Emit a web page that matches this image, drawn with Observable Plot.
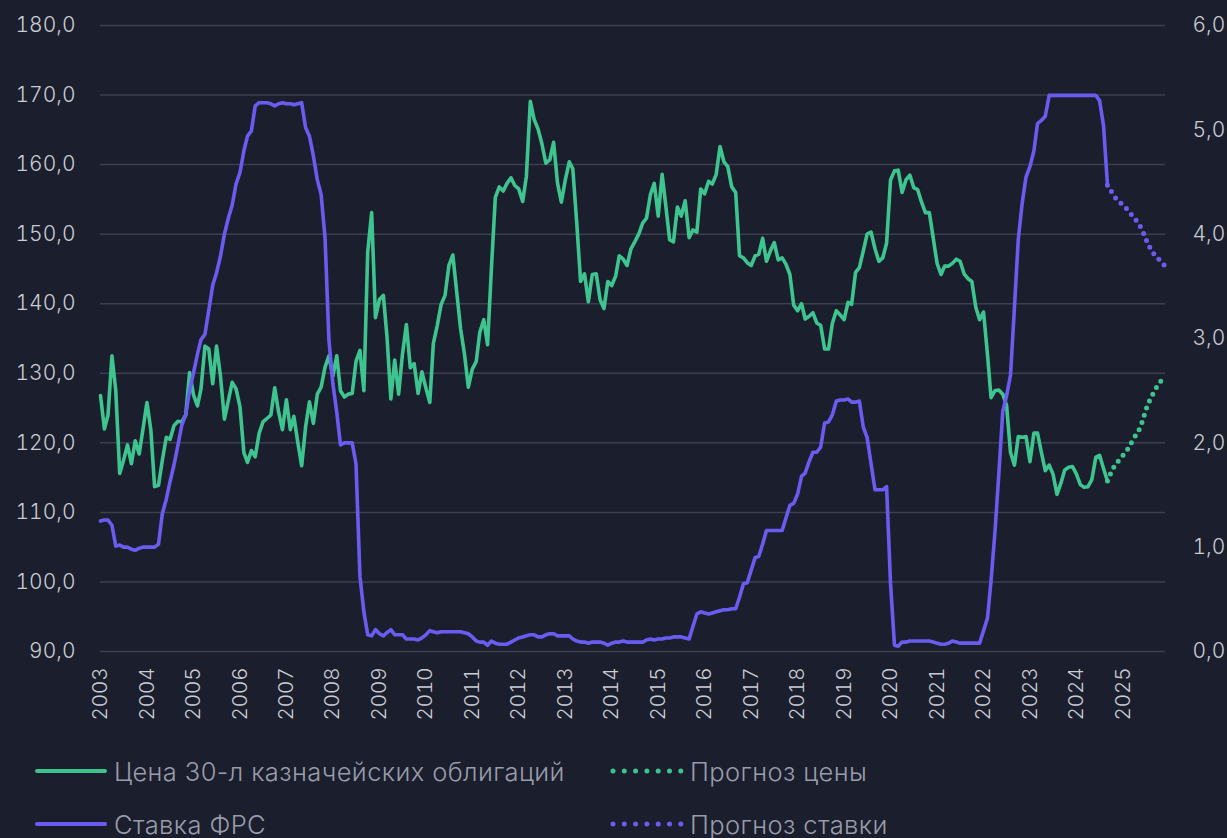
<!DOCTYPE html>
<html><head><meta charset="utf-8">
<script src="https://cdn.jsdelivr.net/npm/d3@7"></script>
<script src="https://cdn.jsdelivr.net/npm/@observablehq/plot@0.6"></script>
<style>
html,body{margin:0;padding:0;background:#1b1e2c;}
#wrap{position:relative;width:1227px;height:838px;overflow:hidden;background:#1b1e2c;}
#chart{position:absolute;left:0;top:0;}
.lg{position:absolute;display:flex;align-items:center;height:34px;font-family:Inter,"Noto Sans",sans-serif;font-weight:300;font-size:25.5px;letter-spacing:0.4px;color:#989cab;white-space:nowrap;}
.lg svg{margin-right:6px;}
</style></head><body><div id="wrap"><div id="chart"></div></div>
<script>
// ---- data (monthly, starting at the "2003" tick) ----
const startYear = 2003;
const priceLabel = "Цена 30-л казначейских облигаций";
const priceForecastLabel = "Прогноз цены";
const rateLabel = "Ставка ФРС";
const rateForecastLabel = "Прогноз ставки";

const price = [
126.8,122,124,132.5,127.5,115.6,117.5,119.7,117,120.3,118.4,122,
125.8,121.8,113.7,113.9,117.5,120.8,120.5,122.5,123.1,123,124,130.1,
126.9,125.3,127.8,133.9,133.5,128.5,133.9,129.6,123.4,126,128.7,127.8,
125.2,118.6,117.2,118.9,118,121.4,123,123.5,124,127.9,124.4,121.9,
126.2,121.9,123.8,120,116.7,122.3,125.9,122.8,127,128,130.9,132.5,
129.6,132.5,127.5,126.6,127,127.1,131.7,133.3,127.5,147.4,153.1,138,
140.6,141.2,135.4,126.3,131.9,127,132.7,137,130.8,131.4,127.1,130.2,
127.9,125.8,134.3,136.9,139.9,141.2,145.5,147,141.6,136.4,132.7,128,
130.6,131.7,135.9,137.7,134.1,145.3,155.3,156.8,156.2,157.3,158.1,157,
156.5,154.7,158.3,169.1,166.5,165.1,163,160.2,160.7,163.2,157.3,154.6,
157.8,160.4,159.4,151.6,143.2,144.3,140.3,144.2,144.3,140.6,139.3,143.2,
142.6,144,146.9,146.4,145.5,147.9,148.9,150,151.6,152.3,155.7,157.3,
152.6,158.6,154.2,149.2,148.9,153.9,152.6,154.8,149.5,150.6,150.3,156.5,
155.8,157.6,157.2,158.6,162.6,160.4,159.7,156.8,156,146.9,146.6,145.9,
145.5,146.9,147.1,149.4,146.1,147.6,148.8,146.3,146.6,145.7,144.2,139.8,
139,140,137.8,138.2,138.7,137.2,136.9,133.5,133.5,137.2,139,138.4,
137.7,140.2,139.9,144.5,145.2,147.6,150,150.3,147.9,146.1,146.6,148.7,
157.8,159.1,159.2,156,157.8,158.5,156.7,156.4,154.6,153.1,153.1,149.5,
145.8,144.2,145.4,145.4,145.8,146.4,146.1,144.3,143.6,143.2,139.5,137.7,
138.8,132.7,126.5,127.5,127.6,127,125.4,118.6,116.8,120.9,120.8,120.9,
117.3,121.4,121.4,118.6,116,116.8,115.5,112.6,114.2,116.1,116.5,116.6,
115.5,114,113.6,113.7,114.7,117.9,118.2,116.3,114.5
];
const rate = [
1.25,1.26,1.26,1.21,1.01,1.02,1.0,1.0,0.98,0.97,0.99,1.0,
1.0,1.0,1.0,1.03,1.32,1.46,1.63,1.79,1.98,2.17,2.27,2.5,
2.67,2.85,2.99,3.04,3.27,3.51,3.63,3.79,4.0,4.15,4.28,4.48,
4.59,4.8,4.94,4.99,5.23,5.26,5.26,5.26,5.25,5.23,5.25,5.26,
5.25,5.25,5.24,5.25,5.26,5.02,4.94,4.75,4.52,4.38,3.96,2.99,
2.57,2.29,1.98,2.0,2.0,2.0,1.8,0.72,0.38,0.16,0.15,0.21,
0.17,0.15,0.18,0.21,0.16,0.16,0.16,0.12,0.12,0.12,0.11,0.13,
0.16,0.2,0.19,0.18,0.19,0.19,0.19,0.19,0.19,0.19,0.18,0.17,
0.14,0.1,0.09,0.09,0.06,0.1,0.08,0.07,0.07,0.07,0.09,0.11,
0.13,0.14,0.15,0.16,0.16,0.14,0.14,0.16,0.17,0.17,0.15,0.15,
0.15,0.15,0.12,0.1,0.09,0.09,0.08,0.09,0.09,0.09,0.08,0.06,
0.08,0.09,0.09,0.1,0.09,0.09,0.09,0.09,0.09,0.11,0.12,0.11,
0.12,0.12,0.13,0.13,0.14,0.14,0.14,0.13,0.12,0.24,0.36,0.38,
0.37,0.36,0.37,0.38,0.39,0.4,0.4,0.41,0.41,0.52,0.65,0.66,
0.78,0.9,0.91,1.03,1.16,1.16,1.16,1.16,1.16,1.28,1.4,1.42,
1.51,1.68,1.71,1.82,1.91,1.91,1.96,2.19,2.2,2.27,2.4,2.41,
2.41,2.42,2.39,2.39,2.4,2.15,2.05,1.8,1.55,1.55,1.55,1.58,
0.65,0.06,0.05,0.09,0.09,0.1,0.1,0.1,0.1,0.1,0.1,0.09,
0.08,0.07,0.07,0.08,0.1,0.09,0.08,0.08,0.08,0.08,0.08,0.08,
0.2,0.32,0.68,1.15,1.7,2.3,2.45,2.65,3.3,3.95,4.3,4.55,
4.65,4.8,5.06,5.09,5.13,5.33,5.33,5.33,5.33,5.33,5.33,5.33,
5.33,5.33,5.33,5.33,5.33,5.33,5.28,5.04,4.47
];
// forecasts start at the last actual month
const priceForecast = [114.5,115.8,116.9,117.5,118.2,118.9,119.8,120.8,121.6,123,124.8,126.2,127.3,128.3,129.0];
const rateForecast = [4.47,4.41,4.35,4.31,4.28,4.24,4.2,4.15,4.11,4.04,3.95,3.87,3.81,3.77,3.73,3.69];

const priceTicks = [90,100,110,120,130,140,150,160,170,180];
const rateTicks = [0,1,2,3,4,5,6];
const yearTicks = d3.range(2003, 2026);

// ---- build ----
const GREEN = "#3ec58f", PURPLE = "#6b5cf1";
const t0 = new Date(Date.UTC(startYear, 0, 1));
const dateOf = i => d3.utcMonth.offset(t0, i);
const fcStart = price.length - 1;
const fmt = v => v.toFixed(1).replace(".", ",");
const pMin = priceTicks[0], pMax = priceTicks[priceTicks.length - 1], rMax = rateTicks[rateTicks.length - 1];
const rateToPrice = r => pMin + r * (pMax - pMin) / rMax;
const priceToRate = p => (p - pMin) * rMax / (pMax - pMin);

const priceData = price.map((v, i) => ({date: dateOf(i), v}));
const rateData = rate.map((v, i) => ({date: dateOf(i), v}));
const priceFcData = priceForecast.map((v, i) => ({date: dateOf(fcStart + i), v}));
const rateFcData = rateForecast.map((v, i) => ({date: dateOf(fcStart + i), v}));

const chart = Plot.plot({
  width: 1227, height: 740,
  marginLeft: 100, marginRight: 62, marginTop: 25, marginBottom: 89,
  style: {background: "transparent", color: "#c9ccd4", fontFamily: "Inter, 'Noto Sans', sans-serif", overflow: "visible"},
  x: {type: "utc", domain: [dateOf(0), dateOf(275)]},
  y: {domain: [pMin, pMax]},
  marks: [
    Plot.gridY(priceTicks, {stroke: "#3c3f4d", strokeOpacity: 1, strokeWidth: 1.5}),
    Plot.axisY(priceTicks, {anchor: "left", tickSize: 0, tickPadding: 25, tickFormat: fmt, label: null, fontSize: 21, fontWeight: 300, fill: "#c9ccd4"}),
    Plot.axisY(rateTicks.map(rateToPrice), {anchor: "right", tickSize: 0, tickPadding: 27, tickFormat: d => fmt(priceToRate(d)), label: null, fontSize: 21, fontWeight: 300, fill: "#c9ccd4"}),
    Plot.axisX(yearTicks.map(y => new Date(Date.UTC(y, 0, 1))), {tickSize: 0, tickPadding: 16, tickRotate: -90, tickFormat: d => String(d.getUTCFullYear()), label: null, fontSize: 20.5, fontWeight: 300, fill: "#c9ccd4"}),
    Plot.lineY(priceData, {x: "date", y: "v", stroke: GREEN, strokeWidth: 3.6, strokeLinejoin: "round"}),
    Plot.lineY(priceFcData, {x: "date", y: "v", stroke: GREEN, strokeWidth: 5, strokeDasharray: "0 7.6", strokeLinecap: "round"}),
    Plot.lineY(rateData, {x: "date", y: d => rateToPrice(d.v), stroke: PURPLE, strokeWidth: 3.6, strokeLinejoin: "round"}),
    Plot.lineY(rateFcData, {x: "date", y: d => rateToPrice(d.v), stroke: PURPLE, strokeWidth: 5, strokeDasharray: "0 7.6", strokeLinecap: "round"})
  ]
});
document.getElementById("chart").appendChild(chart);

// ---- legend ----
const wrap = document.getElementById("wrap");
function legendItem(label, color, dotted, left, cy) {
  const el = document.createElement("div");
  el.className = "lg";
  el.style.left = left + "px";
  el.style.top = (cy - 17) + "px";
  const dash = dotted ? 'stroke-dasharray="0 11.3" stroke-width="5"' : 'stroke-width="4"';
  el.innerHTML = `<svg width="74" height="10"><line x1="3" y1="5" x2="71" y2="5" stroke="${color}" ${dash} stroke-linecap="round"/></svg><span>${label}</span>`;
  wrap.appendChild(el);
}
legendItem(priceLabel, GREEN, false, 34, 771);
legendItem(priceForecastLabel, GREEN, true, 610, 771);
legendItem(rateLabel, PURPLE, false, 34, 824);
legendItem(rateForecastLabel, PURPLE, true, 610, 824);
</script></body></html>
